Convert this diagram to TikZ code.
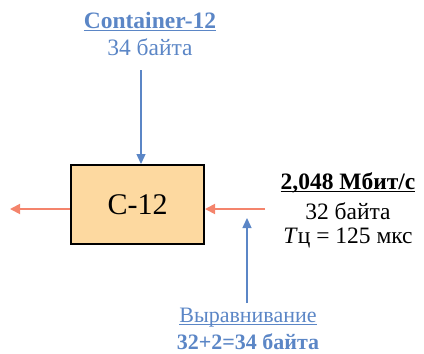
\documentclass[tikz,border=0pt]{standalone}
\usepackage{fontspec}
\setmainfont{Liberation Serif}
\usetikzlibrary{arrows.meta}
\definecolor{cblue}{HTML}{5B86C6}
\definecolor{corange}{HTML}{F4846C}
\definecolor{cfill}{HTML}{FDD9A0}
\newcommand\myul[1]{\setbox0\hbox{#1}\rlap{\rule[-2.6pt]{\wd0}{1.1pt}}\box0}
\begin{document}
\begin{tikzpicture}[x=1pt,y=-1pt,
  lbl/.style={inner sep=0pt,align=center,font=\fontsize{23.5}{28}\selectfont},
  slbl/.style={inner sep=0pt,align=center,font=\fontsize{22}{26}\selectfont},
  barrow/.style={cblue,line width=1.3pt,-{Triangle[length=10pt,width=9pt]}},
  oarrow/.style={corange,line width=1.8pt,-{Triangle[length=10pt,width=10pt]}},
  blk/.style={draw=black,line width=2pt,fill=cfill,minimum width=133pt,minimum height=79pt,inner sep=0pt,font=\fontsize{30}{34}\selectfont}]
\useasboundingbox (0,0) rectangle (424,354);
\node[blk] (c12) at (137.5,204.5) {C-12};
\node[lbl,text=cblue] (cont) at (150,22) {\textbf{\myul{Container-12}}};
\node[lbl,text=cblue] (cb) at (150,47) {34 байта};
\coordinate (topstart) at (141,70);
\draw[barrow] (topstart) -- (c12.north -| topstart);
\coordinate (lend) at (10,209);
\draw[oarrow] (c12.west |- lend) -- (lend);
\coordinate (rstart) at (265,209);
\draw[oarrow] (rstart) -- (c12.east |- rstart);
\node[lbl] (rate) at (348,183) {\textbf{\myul{2,048 Мбит/с}}};
\node[lbl] (r32) at (348,211) {32 байта};
\node[lbl] (tc) at (348,238) {\textit{T}ц = 125 мкс};
\coordinate (upend) at (247,218);
\coordinate (upstart) at (247,303);
\draw[barrow] (upstart) -- (upend);
\node[slbl,text=cblue] (vyr) at (248,318) {\myul{Выравнивание}};
\node[slbl,text=cblue] (v34) at (248,342) {\textbf{32+2=34 байта}};
\end{tikzpicture}
\end{document}
